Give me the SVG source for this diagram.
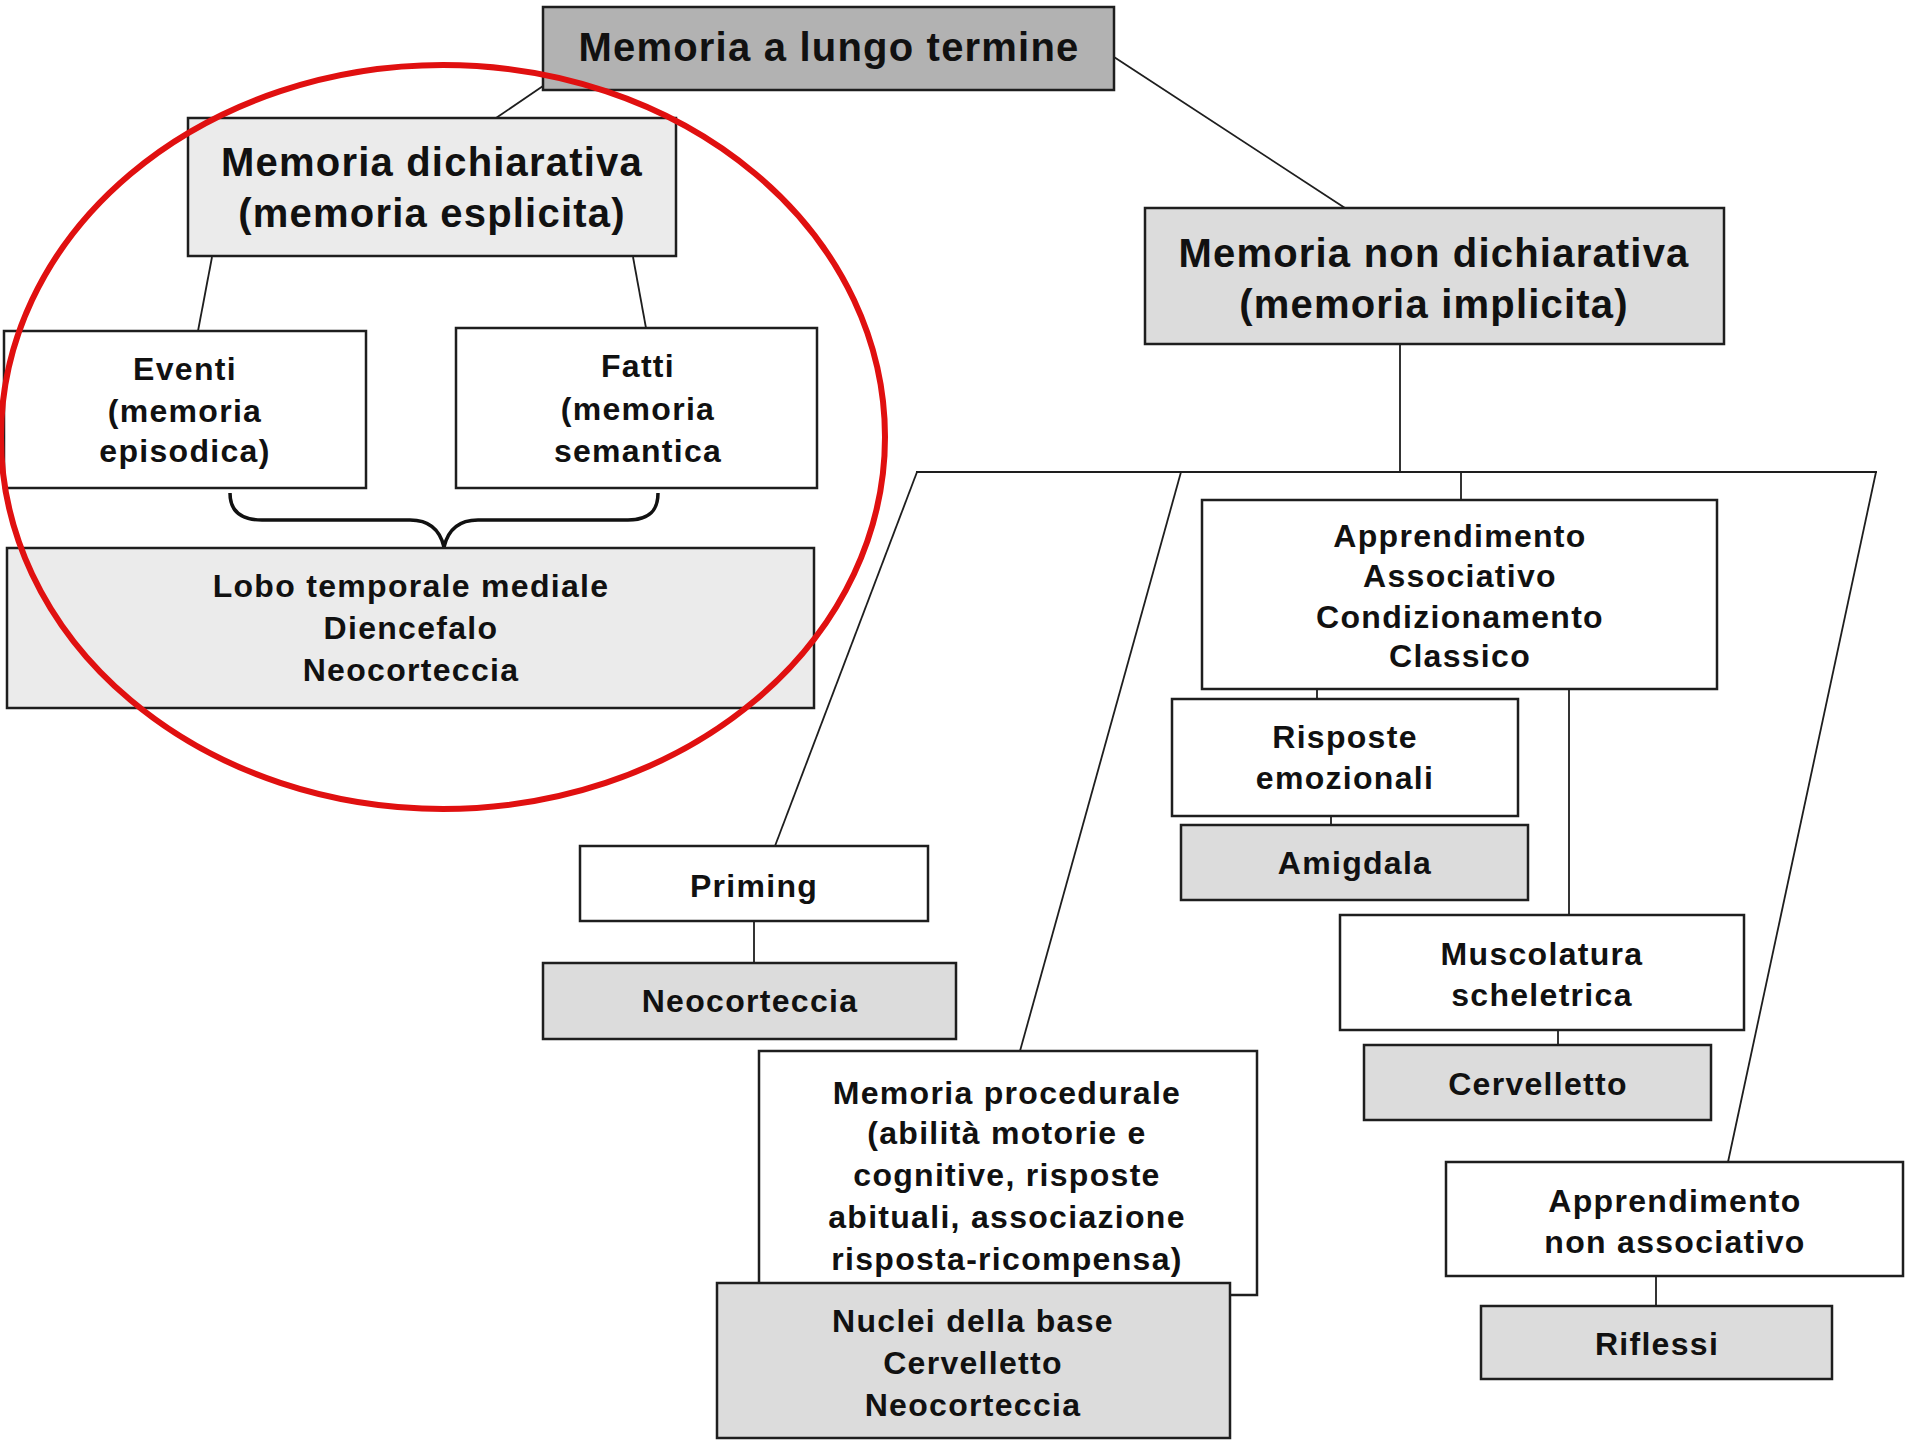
<svg xmlns="http://www.w3.org/2000/svg" width="1905" height="1440" viewBox="0 0 1905 1440">
<style>
.box{stroke:#1e1e1e;stroke-width:2.5}
.w{fill:#ffffff}
.g1{fill:#b2b2b2}
.g2{fill:#ebebeb}
.g3{fill:#dcdcdc}
.con{stroke:#1e1e1e;stroke-width:1.8;fill:none}
.h{font-family:"Liberation Sans",Arial,sans-serif;font-weight:bold;font-size:40px;letter-spacing:1.2px;fill:#111;text-anchor:middle}
.t{font-family:"Liberation Sans",Arial,sans-serif;font-weight:bold;font-size:32px;letter-spacing:1.3px;fill:#111;text-anchor:middle}
</style>
<rect width="1905" height="1440" fill="#ffffff"/>
<g id="connectors">
<line class="con" x1="543" y1="86" x2="496" y2="118"/>
<line class="con" x1="212" y1="257" x2="198" y2="331"/>
<line class="con" x1="633" y1="257" x2="646" y2="328"/>
<path d="M230,493 C230,510 240,520 262,520 L410,520 C430,520 440,530 444,547 C448,530 458,520 478,520 L628,520 C650,520 658,510 658,493" fill="none" stroke="#111" stroke-width="3.5"/>
<line class="con" x1="1114" y1="57" x2="1345" y2="208"/>
<line class="con" x1="1400" y1="344" x2="1400" y2="472"/>
<line class="con" x1="916" y1="472" x2="1877" y2="472"/>
<line class="con" x1="917" y1="472" x2="775" y2="846"/>
<line class="con" x1="1181" y1="472" x2="1020" y2="1051"/>
<line class="con" x1="1461" y1="472" x2="1461" y2="500"/>
<line class="con" x1="1876" y1="472" x2="1728" y2="1162"/>
<line class="con" x1="754" y1="921" x2="754" y2="963"/>
<line class="con" x1="1317" y1="689" x2="1317" y2="699"/>
<line class="con" x1="1331" y1="816" x2="1331" y2="825"/>
<line class="con" x1="1569" y1="689" x2="1569" y2="915"/>
<line class="con" x1="1558" y1="1030" x2="1558" y2="1045"/>
<line class="con" x1="1656" y1="1276" x2="1656" y2="1306"/>
</g>
<g id="n-lungo">
<rect class="box g1" x="543" y="7" width="571" height="83"/>
<text class="h" x="829" y="61">Memoria a lungo termine</text>
</g>
<g id="n-dichiarativa">
<rect class="box g2" x="188" y="118" width="488" height="138"/>
<text class="h" x="432" y="176">Memoria dichiarativa</text>
<text class="h" x="432" y="227">(memoria esplicita)</text>
</g>
<g id="n-eventi">
<rect class="box w" x="4" y="331" width="362" height="157"/>
<text class="t" x="185" y="380">Eventi</text>
<text class="t" x="185" y="422">(memoria</text>
<text class="t" x="185" y="462">episodica)</text>
</g>
<g id="n-fatti">
<rect class="box w" x="456" y="328" width="361" height="160"/>
<text class="t" x="638" y="377">Fatti</text>
<text class="t" x="638" y="420">(memoria</text>
<text class="t" x="638" y="462">semantica</text>
</g>
<g id="n-lobo">
<rect class="box g2" x="7" y="548" width="807" height="160"/>
<text class="t" x="411" y="597">Lobo temporale mediale</text>
<text class="t" x="411" y="639">Diencefalo</text>
<text class="t" x="411" y="681">Neocorteccia</text>
</g>
<g id="n-nondichiarativa">
<rect class="box g3" x="1145" y="208" width="579" height="136"/>
<text class="h" x="1434" y="267">Memoria non dichiarativa</text>
<text class="h" x="1434" y="318">(memoria implicita)</text>
</g>
<g id="n-priming">
<rect class="box w" x="580" y="846" width="348" height="75"/>
<text class="t" x="754" y="897">Priming</text>
</g>
<g id="n-neocorteccia">
<rect class="box g3" x="543" y="963" width="413" height="76"/>
<text class="t" x="750" y="1012">Neocorteccia</text>
</g>
<g id="n-procedurale">
<rect class="box w" x="759" y="1051" width="498" height="244"/>
<text class="t" x="1007" y="1104">Memoria procedurale</text>
<text class="t" x="1007" y="1144">(abilità motorie e</text>
<text class="t" x="1007" y="1186">cognitive, risposte</text>
<text class="t" x="1007" y="1228">abituali, associazione</text>
<text class="t" x="1007" y="1270">risposta-ricompensa)</text>
</g>
<g id="n-nuclei">
<rect class="box g3" x="717" y="1283" width="513" height="155"/>
<text class="t" x="973" y="1332">Nuclei della base</text>
<text class="t" x="973" y="1374">Cervelletto</text>
<text class="t" x="973" y="1416">Neocorteccia</text>
</g>
<g id="n-associativo">
<rect class="box w" x="1202" y="500" width="515" height="189"/>
<text class="t" x="1460" y="547">Apprendimento</text>
<text class="t" x="1460" y="587">Associativo</text>
<text class="t" x="1460" y="628">Condizionamento</text>
<text class="t" x="1460" y="667">Classico</text>
</g>
<g id="n-risposte">
<rect class="box w" x="1172" y="699" width="346" height="117"/>
<text class="t" x="1345" y="748">Risposte</text>
<text class="t" x="1345" y="789">emozionali</text>
</g>
<g id="n-amigdala">
<rect class="box g3" x="1181" y="825" width="347" height="75"/>
<text class="t" x="1355" y="874">Amigdala</text>
</g>
<g id="n-muscolatura">
<rect class="box w" x="1340" y="915" width="404" height="115"/>
<text class="t" x="1542" y="965">Muscolatura</text>
<text class="t" x="1542" y="1006">scheletrica</text>
</g>
<g id="n-cervelletto">
<rect class="box g3" x="1364" y="1045" width="347" height="75"/>
<text class="t" x="1538" y="1095">Cervelletto</text>
</g>
<g id="n-nonassociativo">
<rect class="box w" x="1446" y="1162" width="457" height="114"/>
<text class="t" x="1675" y="1212">Apprendimento</text>
<text class="t" x="1675" y="1253">non associativo</text>
</g>
<g id="n-riflessi">
<rect class="box g3" x="1481" y="1306" width="351" height="73"/>
<text class="t" x="1657" y="1355">Riflessi</text>
</g>
<g id="highlight">
<ellipse cx="443" cy="437" rx="442" ry="372" fill="none" stroke="#e01010" stroke-width="6"/>
</g>
</svg>
